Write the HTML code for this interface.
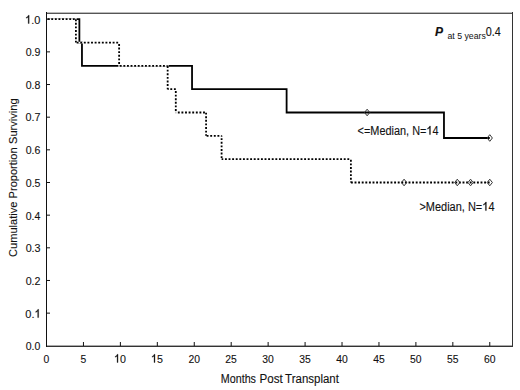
<!DOCTYPE html>
<html><head><meta charset="utf-8"><style>
html,body{margin:0;padding:0;background:#fff;}
svg{display:block;}
.t{font-family:"Liberation Sans",sans-serif;fill:#111;stroke:#111;stroke-width:0.12px;}
.h{fill:none;stroke:none;}
.g1{fill:#111;stroke:#111;stroke-width:0.3px;}
</style></head><body>
<svg width="520" height="390" viewBox="0 0 520 390">
<path d="M46.50 19.20 L79.38 19.20 L79.38 42.53 L81.96 42.53 L81.96 65.86 L192.04 65.86 L192.04 89.19 L286.61 89.19 L286.61 112.51 L443.97 112.51 L443.97 138.00 L489.78 138.00" fill="none" stroke="#000" stroke-width="1.8" stroke-linejoin="miter"/>
<path d="M46.50 19.20 L75.90 19.20 L75.90 42.53 L119.12 42.53 L119.12 65.86 L167.66 65.86 L167.66 89.19 L175.79 89.19 L175.79 112.51 L206.08 112.51 L206.08 135.84 L221.60 135.84 L221.60 159.17 L350.89 159.17 L350.89 182.50 L489.78 182.50" fill="none" stroke="#fff" stroke-width="1.8" stroke-linejoin="miter"/>
<line x1="46.50" y1="19.20" x2="75.90" y2="19.20" stroke="#000" stroke-width="1.8" stroke-dasharray="1.9 1.7" stroke-dashoffset="-1.15"/>
<line x1="75.90" y1="19.20" x2="75.90" y2="42.53" stroke="#000" stroke-width="1.8" stroke-dasharray="1.9 1.7" stroke-dashoffset="-0.05"/>
<line x1="75.90" y1="42.53" x2="119.12" y2="42.53" stroke="#000" stroke-width="1.8" stroke-dasharray="1.9 1.7" stroke-dashoffset="-0.75"/>
<line x1="119.12" y1="42.53" x2="119.12" y2="65.86" stroke="#000" stroke-width="1.8" stroke-dasharray="1.9 1.7" stroke-dashoffset="-1.45"/>
<line x1="119.12" y1="65.86" x2="167.66" y2="65.86" stroke="#000" stroke-width="1.8" stroke-dasharray="1.9 1.7" stroke-dashoffset="-0.65"/>
<line x1="167.66" y1="65.86" x2="167.66" y2="89.19" stroke="#000" stroke-width="1.8" stroke-dasharray="1.9 1.7" stroke-dashoffset="-0.25"/>
<line x1="167.66" y1="89.19" x2="175.79" y2="89.19" stroke="#000" stroke-width="1.8" stroke-dasharray="1.9 1.7" stroke-dashoffset="0.95"/>
<line x1="175.79" y1="89.19" x2="175.79" y2="112.51" stroke="#000" stroke-width="1.8" stroke-dasharray="1.9 1.7" stroke-dashoffset="-1.85"/>
<line x1="175.79" y1="112.51" x2="206.08" y2="112.51" stroke="#000" stroke-width="1.8" stroke-dasharray="1.9 1.7" stroke-dashoffset="-2.05"/>
<line x1="206.08" y1="112.51" x2="206.08" y2="135.84" stroke="#000" stroke-width="1.8" stroke-dasharray="1.9 1.7" stroke-dashoffset="-0.15"/>
<line x1="206.08" y1="135.84" x2="221.60" y2="135.84" stroke="#000" stroke-width="1.8" stroke-dasharray="1.9 1.7" stroke-dashoffset="-0.55"/>
<line x1="221.60" y1="135.84" x2="221.60" y2="159.17" stroke="#000" stroke-width="1.8" stroke-dasharray="1.9 1.7" stroke-dashoffset="-2.35"/>
<line x1="221.60" y1="159.17" x2="350.89" y2="159.17" stroke="#000" stroke-width="1.8" stroke-dasharray="1.9 1.7" stroke-dashoffset="0.25"/>
<line x1="350.89" y1="159.17" x2="350.89" y2="182.50" stroke="#000" stroke-width="1.8" stroke-dasharray="1.9 1.7" stroke-dashoffset="-0.65"/>
<line x1="350.89" y1="182.50" x2="489.78" y2="182.50" stroke="#000" stroke-width="1.8" stroke-dasharray="1.9 1.7" stroke-dashoffset="-0.05"/>
<path d="M367.14 109.21 L369.74 112.51 L367.14 115.81 L364.54 112.51 Z" fill="none" stroke="#333" stroke-width="1"/>
<path d="M489.78 134.70 L492.38 138.00 L489.78 141.30 L487.18 138.00 Z" fill="none" stroke="#333" stroke-width="1"/>
<path d="M404.08 179.20 L406.68 182.50 L404.08 185.80 L401.48 182.50 Z" fill="none" stroke="#333" stroke-width="1"/>
<path d="M457.27 179.20 L459.87 182.50 L457.27 185.80 L454.67 182.50 Z" fill="none" stroke="#333" stroke-width="1"/>
<path d="M470.57 179.20 L473.17 182.50 L470.57 185.80 L467.97 182.50 Z" fill="none" stroke="#333" stroke-width="1"/>
<path d="M489.78 179.20 L492.38 182.50 L489.78 185.80 L487.18 182.50 Z" fill="none" stroke="#333" stroke-width="1"/>
<line x1="46" y1="12.5" x2="513" y2="12.5" stroke="#bbb" stroke-width="1"/>
<line x1="46" y1="13.5" x2="513" y2="13.5" stroke="#555" stroke-width="1"/>
<line x1="46" y1="345.5" x2="513" y2="345.5" stroke="#aaa" stroke-width="1"/>
<line x1="46" y1="346.5" x2="513" y2="346.5" stroke="#333" stroke-width="1"/>
<line x1="512.5" y1="12" x2="512.5" y2="347" stroke="#333" stroke-width="1"/>
<line x1="46.5" y1="12" x2="46.5" y2="347" stroke="#111" stroke-width="1"/>
<text x="43.57" y="362.50" textLength="5.77" lengthAdjust="spacingAndGlyphs" style="font-size:11.5px" class="t">0</text>
<line x1="83.44" y1="342" x2="83.44" y2="346" stroke="#111" stroke-width="1"/>
<text x="80.57" y="362.50" textLength="5.77" lengthAdjust="spacingAndGlyphs" style="font-size:11.5px" class="t">5</text>
<line x1="120.38" y1="342" x2="120.38" y2="346" stroke="#111" stroke-width="1"/>
<text x="114.05" y="362.50" textLength="11.90" lengthAdjust="spacingAndGlyphs" style="font-size:11.5px" class="t one"><tspan class="h">1</tspan>0</text>
<line x1="157.32" y1="342" x2="157.32" y2="346" stroke="#111" stroke-width="1"/>
<text x="150.99" y="362.50" textLength="11.90" lengthAdjust="spacingAndGlyphs" style="font-size:11.5px" class="t one"><tspan class="h">1</tspan>5</text>
<line x1="194.26" y1="342" x2="194.26" y2="346" stroke="#111" stroke-width="1"/>
<text x="188.41" y="362.50" textLength="11.52" lengthAdjust="spacingAndGlyphs" style="font-size:11.5px" class="t">20</text>
<line x1="231.20" y1="342" x2="231.20" y2="346" stroke="#111" stroke-width="1"/>
<text x="225.35" y="362.50" textLength="11.52" lengthAdjust="spacingAndGlyphs" style="font-size:11.5px" class="t">25</text>
<line x1="268.14" y1="342" x2="268.14" y2="346" stroke="#111" stroke-width="1"/>
<text x="262.34" y="362.50" textLength="11.52" lengthAdjust="spacingAndGlyphs" style="font-size:11.5px" class="t">30</text>
<line x1="305.08" y1="342" x2="305.08" y2="346" stroke="#111" stroke-width="1"/>
<text x="299.28" y="362.50" textLength="11.52" lengthAdjust="spacingAndGlyphs" style="font-size:11.5px" class="t">35</text>
<line x1="342.02" y1="342" x2="342.02" y2="346" stroke="#111" stroke-width="1"/>
<text x="336.34" y="362.50" textLength="11.52" lengthAdjust="spacingAndGlyphs" style="font-size:11.5px" class="t">40</text>
<line x1="378.96" y1="342" x2="378.96" y2="346" stroke="#111" stroke-width="1"/>
<text x="373.28" y="362.50" textLength="11.52" lengthAdjust="spacingAndGlyphs" style="font-size:11.5px" class="t">45</text>
<line x1="415.90" y1="342" x2="415.90" y2="346" stroke="#111" stroke-width="1"/>
<text x="410.10" y="362.50" textLength="11.52" lengthAdjust="spacingAndGlyphs" style="font-size:11.5px" class="t">50</text>
<line x1="452.84" y1="342" x2="452.84" y2="346" stroke="#111" stroke-width="1"/>
<text x="447.04" y="362.50" textLength="11.52" lengthAdjust="spacingAndGlyphs" style="font-size:11.5px" class="t">55</text>
<line x1="489.78" y1="342" x2="489.78" y2="346" stroke="#111" stroke-width="1"/>
<text x="483.93" y="362.50" textLength="11.52" lengthAdjust="spacingAndGlyphs" style="font-size:11.5px" class="t">60</text>
<text x="25.69" y="350.45" textLength="14.61" lengthAdjust="spacingAndGlyphs" style="font-size:11.5px" class="t">0.0</text>
<line x1="46" y1="313.14" x2="50" y2="313.14" stroke="#111" stroke-width="1"/>
<text x="25.37" y="317.60" textLength="15.30" lengthAdjust="spacingAndGlyphs" style="font-size:11.5px" class="t one">0.<tspan class="h">1</tspan></text>
<line x1="46" y1="280.48" x2="50" y2="280.48" stroke="#111" stroke-width="1"/>
<text x="25.69" y="284.75" textLength="14.84" lengthAdjust="spacingAndGlyphs" style="font-size:11.5px" class="t">0.2</text>
<line x1="46" y1="247.82" x2="50" y2="247.82" stroke="#111" stroke-width="1"/>
<text x="25.63" y="251.75" textLength="14.99" lengthAdjust="spacingAndGlyphs" style="font-size:11.5px" class="t">0.3</text>
<line x1="46" y1="215.16" x2="50" y2="215.16" stroke="#111" stroke-width="1"/>
<text x="25.69" y="219.65" textLength="14.60" lengthAdjust="spacingAndGlyphs" style="font-size:11.5px" class="t">0.4</text>
<line x1="46" y1="182.50" x2="50" y2="182.50" stroke="#111" stroke-width="1"/>
<text x="25.79" y="186.85" textLength="14.72" lengthAdjust="spacingAndGlyphs" style="font-size:11.5px" class="t">0.5</text>
<line x1="46" y1="149.84" x2="50" y2="149.84" stroke="#111" stroke-width="1"/>
<text x="25.69" y="154.20" textLength="14.72" lengthAdjust="spacingAndGlyphs" style="font-size:11.5px" class="t">0.6</text>
<line x1="46" y1="117.18" x2="50" y2="117.18" stroke="#111" stroke-width="1"/>
<text x="25.48" y="120.90" textLength="14.95" lengthAdjust="spacingAndGlyphs" style="font-size:11.5px" class="t">0.7</text>
<line x1="46" y1="84.52" x2="50" y2="84.52" stroke="#111" stroke-width="1"/>
<text x="25.69" y="88.90" textLength="14.72" lengthAdjust="spacingAndGlyphs" style="font-size:11.5px" class="t">0.8</text>
<line x1="46" y1="51.86" x2="50" y2="51.86" stroke="#111" stroke-width="1"/>
<text x="25.69" y="56.20" textLength="14.72" lengthAdjust="spacingAndGlyphs" style="font-size:11.5px" class="t">0.9</text>
<line x1="46" y1="19.20" x2="50" y2="19.20" stroke="#111" stroke-width="1"/>
<text x="25.06" y="23.50" textLength="15.27" lengthAdjust="spacingAndGlyphs" style="font-size:11.5px" class="t one"><tspan class="h">1</tspan>.0</text>
<text x="220.86" y="382.60" textLength="35.12" lengthAdjust="spacingAndGlyphs" style="font-size:12px" class="t">Months</text>
<text x="259.58" y="382.60" textLength="23.20" lengthAdjust="spacingAndGlyphs" style="font-size:12px" class="t">Post</text>
<text x="285.11" y="382.60" textLength="53.76" lengthAdjust="spacingAndGlyphs" style="font-size:12px" class="t">Transplant</text>
<text x="-144.04" y="16.60" textLength="45.70" lengthAdjust="spacingAndGlyphs" style="font-size:11.3px" class="t" transform="rotate(-90)">Surviving</text>
<text x="-198.41" y="16.60" textLength="50.98" lengthAdjust="spacingAndGlyphs" style="font-size:11.3px" class="t" transform="rotate(-90)">Proportion</text>
<text x="-256.96" y="16.60" textLength="55.32" lengthAdjust="spacingAndGlyphs" style="font-size:11.3px" class="t" transform="rotate(-90)">Cumulative</text>
<text x="357.59" y="134.60" textLength="80.95" lengthAdjust="spacingAndGlyphs" style="font-size:12px" class="t one">&lt;=Median, N=<tspan class="h">1</tspan>4</text>
<text x="419.38" y="210.60" textLength="75.15" lengthAdjust="spacingAndGlyphs" style="font-size:12px" class="t one">&gt;Median, N=<tspan class="h">1</tspan>4</text>
<text x="434.90" y="36.40" textLength="8.07" lengthAdjust="spacingAndGlyphs" style="font-size:12px;font-weight:bold;font-style:italic" class="t">P</text>
<text x="447.40" y="39.00" textLength="38.46" lengthAdjust="spacingAndGlyphs" style="font-size:9.5px;stroke-width:0" class="t">at 5 years</text>
<text x="485.80" y="36.10" textLength="15.03" lengthAdjust="spacingAndGlyphs" style="font-size:12px" class="t">0.4</text>
<path d="M118.03 362.50 L117.09 362.50 L117.09 356.06 L116.75 356.41 L116.20 356.76 L115.65 357.10 L115.21 357.28 L115.21 356.30 L115.92 355.94 L116.49 355.39 L117.05 354.83 L117.29 354.27 L118.03 354.27Z" class="g1"/>
<path d="M154.97 362.50 L154.03 362.50 L154.03 356.06 L153.69 356.41 L153.14 356.76 L152.59 357.10 L152.15 357.28 L152.15 356.30 L152.86 355.94 L153.43 355.39 L153.99 354.83 L154.23 354.27 L154.97 354.27Z" class="g1"/>
<path d="M38.64 317.60 L37.67 317.60 L37.67 311.16 L37.32 311.51 L36.76 311.86 L36.19 312.20 L35.74 312.38 L35.74 311.40 L36.47 311.04 L37.05 310.49 L37.63 309.93 L37.87 309.37 L38.64 309.37Z" class="g1"/>
<path d="M29.15 23.50 L28.18 23.50 L28.18 17.06 L27.84 17.41 L27.27 17.76 L26.70 18.10 L26.25 18.28 L26.25 17.30 L26.98 16.94 L27.56 16.39 L28.14 15.83 L28.38 15.27 L29.15 15.27Z" class="g1"/>
<path d="M430.45 134.60 L429.49 134.60 L429.49 127.88 L429.15 128.24 L428.58 128.61 L428.02 128.97 L427.57 129.15 L427.57 128.13 L428.30 127.76 L428.87 127.18 L429.45 126.60 L429.69 126.01 L430.45 126.01Z" class="g1"/>
<path d="M486.38 210.60 L485.41 210.60 L485.41 203.88 L485.07 204.24 L484.50 204.61 L483.93 204.97 L483.48 205.15 L483.48 204.13 L484.21 203.76 L484.79 203.18 L485.37 202.60 L485.61 202.01 L486.38 202.01Z" class="g1"/>
</svg>
</body></html>
